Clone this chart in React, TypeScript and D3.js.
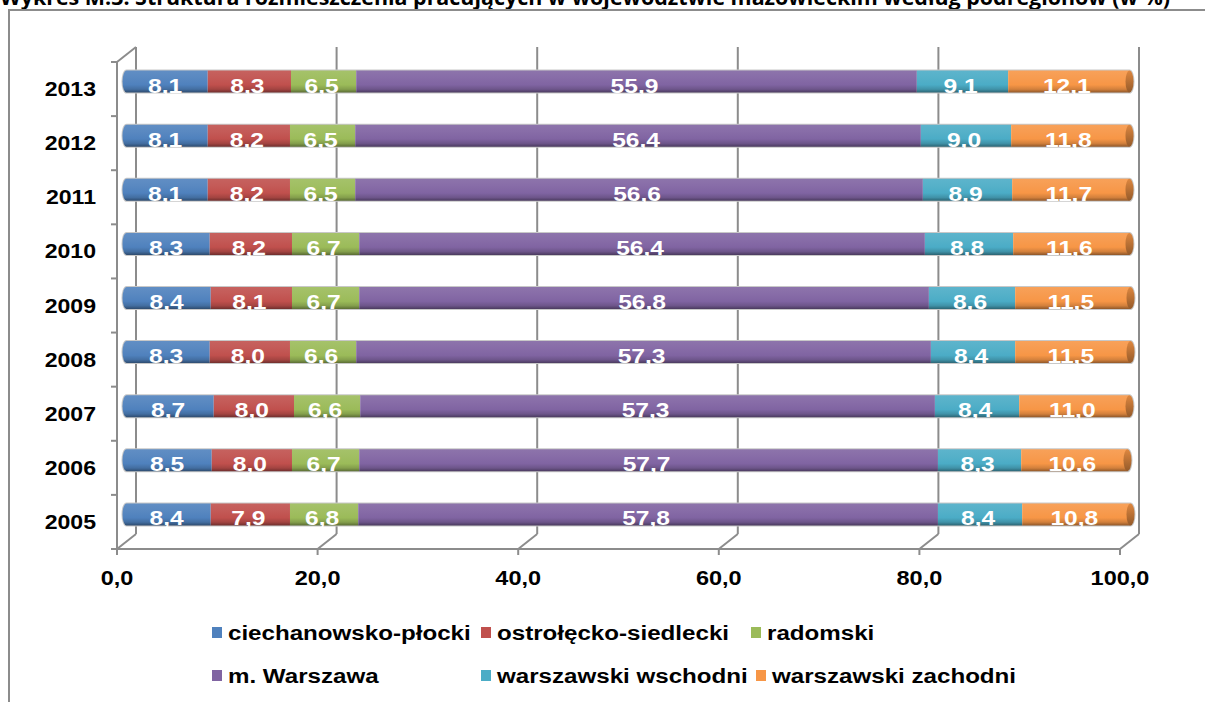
import React from "react";
import * as d3 from "d3";

const title =
  "Wykres M.3. Struktura rozmieszczenia pracujących w województwie mazowieckim według podregionów (w %)";
const years = ["2005", "2006", "2007", "2008", "2009", "2010", "2011", "2012", "2013"];
const seriesNames = [
  "ciechanowsko-płocki",
  "ostrołęcko-siedlecki",
  "radomski",
  "m. Warszawa",
  "warszawski wschodni",
  "warszawski zachodni",
];
const seriesColors = ["#4F81BD", "#C0504D", "#9BBB59", "#8064A2", "#4BACC6", "#F79646"];
const ciechanowskoPlocki = [8.4, 8.5, 8.7, 8.3, 8.4, 8.3, 8.1, 8.1, 8.1];
const ostroleckoSiedlecki = [7.9, 8.0, 8.0, 8.0, 8.1, 8.2, 8.2, 8.2, 8.3];
const radomski = [6.8, 6.7, 6.6, 6.6, 6.7, 6.7, 6.5, 6.5, 6.5];
const mWarszawa = [57.8, 57.7, 57.3, 57.3, 56.8, 56.4, 56.6, 56.4, 55.9];
const warszawskiWschodni = [8.4, 8.3, 8.4, 8.4, 8.6, 8.8, 8.9, 9.0, 9.1];
const warszawskiZachodni = [10.8, 10.6, 11.0, 11.5, 11.5, 11.6, 11.7, 11.8, 12.1];
const xTicks = [0, 20, 40, 60, 80, 100];

const seriesValues = [
  ciechanowskoPlocki,
  ostroleckoSiedlecki,
  radomski,
  mWarszawa,
  warszawskiWschodni,
  warszawskiZachodni,
];

const FONT = "'Liberation Sans', Arial, sans-serif";
const DX = 19;
const DY = -15;
const BAR_H = 22;
const RX = 4;
const GRID = "#8c8c8c";

function SText(props: {
  x: number;
  y: number;
  sx?: number;
  size: number;
  anchor?: string;
  fill?: string;
  children: React.ReactNode;
}) {
  const { x, y, sx = 1.15, size, anchor = "start", fill = "#000", children } = props;
  return (
    <text
      transform={`translate(${x},${y}) scale(${sx},1)`}
      textAnchor={anchor as any}
      fontFamily={FONT}
      fontWeight="bold"
      fontSize={size}
      fill={fill}
    >
      {children}
    </text>
  );
}

export default function App() {
  const x = d3.scaleLinear().domain([0, 100]).range([117, 1120]);
  const y = d3.scaleBand<string>().domain([...years].reverse()).range([62, 549]).padding(0);
  const bw = y.bandwidth();
  const floorY = 549;
  const topY = 62;
  const fmt = (v: number) => d3.format(".1f")(v).replace(".", ",");

  const lighten = (c: string, k: number) => d3.interpolateRgb(c, "#ffffff")(k);
  const darken = (c: string, k: number) => d3.interpolateRgb(c, "#000000")(k);

  const boundaries = d3.range(years.length + 1).map((i) => topY + i * bw);

  const legendRows = [
    [
      { i: 0, x: 212 },
      { i: 1, x: 481 },
      { i: 2, x: 751 },
    ],
    [
      { i: 3, x: 212 },
      { i: 4, x: 481 },
      { i: 5, x: 756 },
    ],
  ];
  const legendY = [633, 676];

  return (
    <svg
      width={1205}
      height={702}
      style={{ position: "absolute", left: 0, top: 0, background: "#fff" }}
    >
      <defs>
        {seriesColors.map((c, i) => (
          <linearGradient key={i} id={`g${i}`} x1="0" y1="0" x2="0" y2="1">
            <stop offset="0" stopColor={lighten(c, 0.1)} />
            <stop offset="0.3" stopColor={lighten(c, 0.06)} />
            <stop offset="0.65" stopColor={c} />
            <stop offset="0.85" stopColor={darken(c, 0.15)} />
            <stop offset="1" stopColor={darken(c, 0.42)} />
          </linearGradient>
        ))}
        <linearGradient id="cap" x1="0" y1="0" x2="0" y2="1">
          <stop offset="0" stopColor={darken(seriesColors[5], 0.1)} />
          <stop offset="1" stopColor={darken(seriesColors[5], 0.4)} />
        </linearGradient>
      </defs>

      {/* title (cut off at top, as in the source) */}
      <text
        x={0}
        y={5}
        fontFamily="'Open Sans', 'Liberation Sans', sans-serif"
        fontWeight="bold"
        fontSize={21}
        textLength={1170}
        lengthAdjust="spacingAndGlyphs"
        fill="#000"
      >
        {title}
      </text>

      {/* chart border */}
      <rect x={9} y={10} width={1220} height={720} fill="none" stroke="#8c8c8c" strokeWidth={2} />

      {/* back gridlines with floor diagonals */}
      {xTicks.map((t) => (
        <g key={t} stroke={GRID} strokeWidth={2} fill="none">
          <line x1={x(t) + DX} y1={topY + DY} x2={x(t) + DX} y2={floorY + DY} />
          <line x1={x(t) + DX} y1={floorY + DY} x2={x(t)} y2={floorY} />
        </g>
      ))}

      {/* left wall and floor */}
      <g stroke={GRID} strokeWidth={2} fill="none">
        <line x1={x(0)} y1={topY} x2={x(0)} y2={floorY} />
        <line x1={x(0)} y1={topY} x2={x(0) + DX} y2={topY + DY} />
        {boundaries.map((b, i) => (
          <line key={i} x1={x(0) - 6} y1={b} x2={x(0)} y2={b} />
        ))}
        <line x1={x(0)} y1={floorY} x2={x(100)} y2={floorY} />
        {xTicks.map((t) => (
          <line key={t} x1={x(t)} y1={floorY} x2={x(t)} y2={floorY + 6} />
        ))}
      </g>

      {/* bars */}
      {years.map((yr, yi) => {
        const cy = (y(yr) as number) + bw / 2 + DY / 2;
        const top = cy - BAR_H / 2;
        const bot = cy + BAR_H / 2;
        const xb = (v: number) => x(v) + DX / 2;
        let cum = 0;
        const segs = seriesValues.map((vals, si) => {
          const v = vals[yi];
          const x0 = xb(cum);
          const x1 = xb(cum + v);
          cum += v;
          return { si, v, x0, x1 };
        });
        const xEnd = segs[segs.length - 1].x1;
        const xStart = segs[0].x0;
        const outline = `M${xStart},${top} L${xEnd},${top} A${RX},${BAR_H / 2} 0 0 1 ${xEnd},${bot} L${xStart},${bot} A${RX},${BAR_H / 2} 0 0 1 ${xStart},${top} Z`;
        return (
          <g key={yr}>
            <path d={outline} fill="none" stroke="#c8c8c8" strokeWidth={2} />
            {segs.map((s) => {
              const d =
                s.si === 0
                  ? `M${s.x0},${top} L${s.x1},${top} L${s.x1},${bot} L${s.x0},${bot} A${RX},${BAR_H / 2} 0 0 1 ${s.x0},${top} Z`
                  : `M${s.x0},${top} L${s.x1},${top} L${s.x1},${bot} L${s.x0},${bot} Z`;
              return <path key={s.si} d={d} fill={`url(#g${s.si})`} />;
            })}
            <ellipse cx={xEnd} cy={cy} rx={RX} ry={BAR_H / 2} fill="url(#cap)" />
            {segs.map((s) => (
              <SText
                key={s.si}
                x={(s.x0 + s.x1) / 2 - 2}
                y={bot}
                size={21}
                sx={1.17}
                anchor="middle"
                fill="#ffffff"
              >
                {fmt(s.v)}
              </SText>
            ))}
          </g>
        );
      })}

      {/* year labels */}
      {years.map((yr) => (
        <SText key={yr} x={96} y={(y(yr) as number) + bw / 2 + 7} size={21} sx={1.1} anchor="end">
          {yr}
        </SText>
      ))}

      {/* x tick labels */}
      {xTicks.map((t) => (
        <SText key={t} x={x(t)} y={585} size={21} sx={1.12} anchor="middle">
          {fmt(t)}
        </SText>
      ))}

      {/* legend */}
      {legendRows.map((row, ri) =>
        row.map((it) => (
          <g key={it.i}>
            <rect x={it.x} y={legendY[ri] - 6} width={10} height={11} fill={seriesColors[it.i]} />
            <SText x={it.x + 16} y={legendY[ri] + 7} size={21} sx={1.15}>
              {seriesNames[it.i]}
            </SText>
          </g>
        ))
      )}
    </svg>
  );
}
